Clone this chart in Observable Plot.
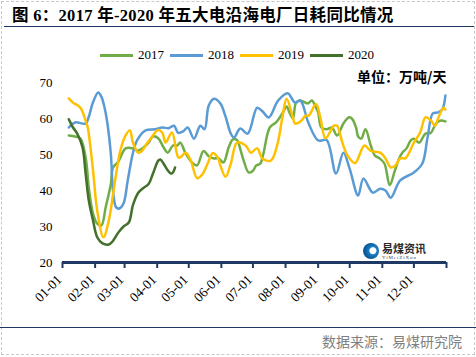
<!DOCTYPE html>
<html><head><meta charset="utf-8">
<script src="https://cdn.jsdelivr.net/npm/d3@7"></script>
<script src="https://cdn.jsdelivr.net/npm/@observablehq/plot@0.6"></script>
<style>
body{margin:0;background:#fff;}
#wrap{position:relative;width:476px;height:357px;overflow:hidden;font-family:"Liberation Serif","Noto Sans CJK SC",serif;}
#frame{position:absolute;left:1px;top:1px;width:472px;height:352px;border:1px dashed #c8c8c8;}
#title{position:absolute;left:12px;top:2px;font-size:16.5px;letter-spacing:0.3px;font-weight:bold;color:#000;white-space:nowrap;font-family:"Liberation Serif","Noto Sans CJK SC",serif;}
#rule1{position:absolute;left:4px;top:26px;width:470px;height:0;border-top:1.5px solid #1F3864;}
#chart{position:absolute;left:0;top:30px;}
#rule2{position:absolute;left:0;top:327px;width:476px;height:0;border-top:1.5px solid #1F3864;}
#source{position:absolute;left:322px;top:331px;font-family:"Noto Sans CJK SC",sans-serif;font-size:14px;color:#808080;white-space:nowrap;}
#unit{position:absolute;left:357px;top:66px;font-family:"Noto Sans CJK SC",sans-serif;font-size:14px;font-weight:bold;color:#000;white-space:nowrap;}
#legend{position:absolute;left:100px;top:47px;display:flex;font-size:13px;color:#000;}
.li{display:flex;align-items:center;width:70px;}
.sw{width:33px;height:3px;margin-right:5px;}
#logo{position:absolute;left:363px;top:242px;display:flex;align-items:center;}
#logo .c{width:16px;height:16px;border-radius:50%;background:radial-gradient(circle at 62% 48%,#fff 0 3px,#1a7fc4 4px,#0b5a99 8px);margin-right:3px;}
#logo .t1{font-family:"Noto Sans CJK SC",sans-serif;font-weight:bold;font-size:11px;line-height:12px;height:12px;color:#2a2a2a;}
#logo .t2{font-family:"Liberation Serif",serif;font-size:5px;line-height:5px;height:5px;margin-top:1px;color:#444;letter-spacing:0.9px;}
</style></head>
<body>
<div id="wrap">
  <div id="frame"></div>
  <div id="title">图 6：2017 年-2020 年五大电沿海电厂日耗同比情况</div>
  <div id="rule1"></div>
  <div id="legend"></div>
  <div id="unit">单位：万吨/天</div>
  <div id="chart"></div>
  <div id="logo"><div class="c"></div><div><div class="t1">易煤资讯</div><div class="t2">YiMeiZiXun</div></div></div>
  <div id="rule2"></div>
  <div id="source">数据来源：易煤研究院</div>
</div>
<script>
// Series names and colours
const years = ["2017", "2018", "2019", "2020"];
const colors = ["#70AD47", "#5B9BD5", "#FFC000", "#43702A"];

// Day-of-year positions and values (万吨/天)
const days2017 = [6,12,17,22,25,29,33,37,41,46,48,53,60,67,72,81,86,91,96,100,105,109,112,117,124,128,134,139,144,148,153,158,162,166,169,172,177,181,184,188,191,197,203,209,213,216,219,222,226,233,237,241,243,246,251,256,261,267,272,275,279,281,284,288,293,297,301,306,311,316,320,323,327,331,334,339,345,350,355,359,364];
const vals2017 = [55.3,55,54.4,49.2,40.8,33.6,30.8,30.3,35.3,41.9,46.4,48,51.7,51.7,51.1,53,55,54.5,52,50.5,52.5,52.5,53.3,50.3,47.5,47,51,49.5,48.9,49,47.8,52,54.2,54,51.5,48.5,45,45.5,46.9,47.5,50.3,57.5,58.9,61.4,63.3,61.5,60,64.4,65,64.2,65,63,61.7,57.5,57,57.5,55.3,58.6,60.3,60,57.5,55,54.4,57,52.5,49.7,49,47.5,41.5,45.6,48.9,50.5,51.7,53.9,54.4,53.3,55.8,56,58.6,59.4,59.2];

const days2018 = [6,12,22,25,29,34,37,40,43,46,48,51,54,58,62,67,71,79,88,95,101,106,110,115,119,125,131,135,139,144,150,155,160,163,169,176,185,190,196,205,214,221,226,234,243,251,260,267,273,281,286,295,302,307,312,321,334,342,347,352,357,361,364];
const vals2018 = [57.5,58.9,58.6,60.5,64.5,67.2,66,63,58,50,40,35.3,35,36.4,42.8,50.5,54,56.7,57,57.5,57.3,58,56,56.5,57.5,54.4,58,57,63.6,65.5,64.2,60.5,55.8,54.7,57.2,55.8,63,62,60.3,65,67,64.4,65,58.6,53.9,54,44.7,50.5,46,38.6,43.3,39.4,40.5,40,38,42.8,45,47.5,54.7,61.4,61.7,62.5,66.4];

const days2019 = [6,10,17,22,24,29,33,39,44,50,55,60,64,67,72,75,79,84,91,95,98,104,110,112,117,122,128,133,138,143,148,150,155,160,166,174,179,185,190,198,204,209,213,219,221,227,231,234,241,245,250,258,261,266,271,278,287,293,302,307,312,316,321,326,334,340,345,350,354,357,362,364];
const vals2019 = [65.6,64.4,63,59.4,57.5,45.6,34.4,27,31.7,42.8,51.1,55.3,56.7,53.3,50.5,50.8,52.5,54.5,56.8,56,53.3,56.1,49.2,49.2,50.5,48.3,43.4,44.5,47.5,50.4,48.9,47,43.8,47.5,53.3,52.5,50.5,51.7,48.9,48.3,52.5,60.3,65.5,60.3,58.6,59.4,60.8,60.8,64,60.3,54.5,58,58,53.3,49.7,47.6,52.5,51,50.5,48.9,46.4,46.8,48.9,49,53.3,56.1,60.3,59.5,58,60,63,62.5];

const days2020 = [6,10,14,19,22,25,29,33,38,44,48,53,58,63,67,72,76,82,86,91,93,96,100,103,105,107];
const vals2020 = [59.8,57.5,55.8,52,44.7,37.2,31.7,27,25.3,25,26,28.3,30,31.1,36,39.4,40.5,41.9,44.7,48.3,48.6,47.5,45.6,44.7,45,46.4];

const yTicks = [20, 30, 40, 50, 60, 70];

// ---- build ----
const dt = d => new Date(Date.UTC(2019, 0, 1 + d));
const seriesDays = [days2017, days2018, days2019, days2020];
const seriesVals = [vals2017, vals2018, vals2019, vals2020];
const rows = [];
years.forEach((y, k) => seriesDays[k].forEach((d, i) => rows.push({date: dt(d), value: seriesVals[k][i], year: y})));
const monthTicks = d3.utcMonth.range(dt(0), dt(366));
const fmt = d3.utcFormat("%m-%d");

const legend = document.getElementById("legend");
years.forEach((y, k) => {
  const it = document.createElement("div"); it.className = "li";
  it.innerHTML = `<div class="sw" style="background:${colors[k]}"></div><span>${y}</span>`;
  legend.appendChild(it);
});

const chart = Plot.plot({
  width: 476, height: 290,
  marginTop: 52, marginBottom: 58, marginLeft: 62, marginRight: 30,
  style: {fontFamily: "Liberation Serif, serif", fontSize: "13px", color: "#000", background: "transparent"},
  x: {type: "utc", domain: [dt(0), dt(365)]},
  y: {domain: [20, 70]},
  color: {domain: years, range: colors},
  marks: [
    Plot.axisY({ticks: yTicks, tickSize: 0, tickPadding: 10, label: null, fontSize: 13}),
    // tick marks only
    Plot.axisX({ticks: monthTicks, tickSize: 6, stroke: "#1F3864", strokeWidth: 2, tickFormat: () => "", label: null}),
    // rotated labels only
    Plot.axisX({ticks: monthTicks, tickSize: 0, tickPadding: 6, fill: "#000",
      tickRotate: -45, label: null, fontSize: 13.5, dx: -3, dy: 9,
      tickFormat: d => d.getUTCFullYear() === 2019 ? fmt(d) : ""}),
    Plot.ruleY([20], {stroke: "#1F3864", strokeWidth: 3}),
    Plot.line(rows, {x: "date", y: "value", z: "year", stroke: "year", strokeWidth: 2.5, curve: "catmull-rom"})
  ]
});
document.getElementById("chart").appendChild(chart);
</script>
</body></html>
